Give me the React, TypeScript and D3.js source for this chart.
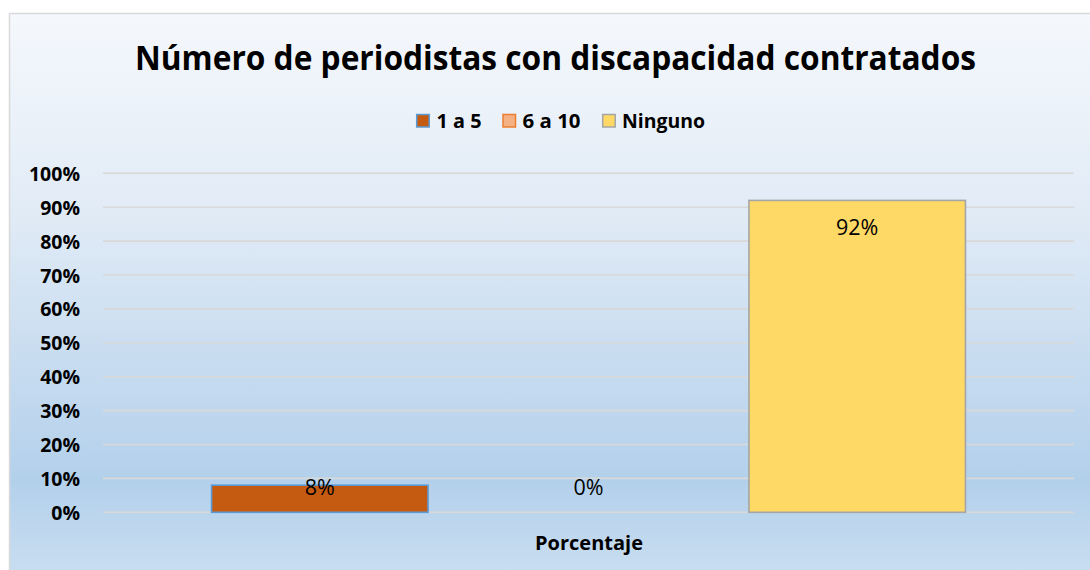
import React from "react";
import * as d3 from "d3";

const title = "Número de periodistas con discapacidad contratados";
const seriesNames = ["1 a 5", "6 a 10", "Ninguno"];
const seriesValues = [0.08, 0, 0.92];
const valueLabels = ["8%", "0%", "92%"];
const fills = ["#C55A11", "#F4B183", "#FFD966"];
const strokes = ["#5B9BD5", "#ED7D31", "#A5A5A5"];
const yTicks = [0, 0.1, 0.2, 0.3, 0.4, 0.5, 0.6, 0.7, 0.8, 0.9, 1.0];
const categoryLabel = "Porcentaje";

const W = 1090;
const H = 570;
const plotLeft = 103;
const plotRight = 1074;
const plotTop = 173.3;
const plotBottom = 512.3;

export default function App() {
  const y = d3.scaleLinear().domain([0, 1]).range([plotBottom, plotTop]);
  const x = d3
    .scaleBand<string>()
    .domain(seriesNames)
    .range([plotLeft, plotRight])
    .paddingInner(0.1944)
    .paddingOuter(0.404);
  const fmt = d3.format(".0%");
  const font = "'Open Sans', 'DejaVu Sans', sans-serif";

  const legendItems = [
    { sq: 416.7, tx: 436.5, w: 45 },
    { sq: 503, tx: 522.5, w: 58 },
    { sq: 602.7, tx: 622, w: 83 },
  ];

  return (
    <div style={{ position: "absolute", left: 0, top: 0 }}>
      <svg width={W} height={H} style={{ display: "block" }}>
        <defs>
          <linearGradient id="bg" x1="0" y1="0" x2="0" y2="1">
            <stop offset="0" stopColor="#F5F8FC" />
            <stop offset="0.35" stopColor="#E1EBF6" />
            <stop offset="0.82" stopColor="#B3D0EB" />
            <stop offset="1" stopColor="#CBDFF1" />
          </linearGradient>
        </defs>
        <rect x={0} y={0} width={W} height={H} fill="#FFFFFF" />
        <rect x={9.5} y={13.5} width={W + 10} height={H} fill="url(#bg)" stroke="#D9D9D9" strokeWidth={1.5} />
        <text
          x={555.5}
          y={69.5}
          textAnchor="middle"
          fontFamily={font}
          fontWeight="bold"
          fontSize={34}
          textLength={841}
          lengthAdjust="spacingAndGlyphs"
          fill="#000"
        >
          {title}
        </text>
        {/* legend */}
        {seriesNames.map((s, i) => (
          <g key={s}>
            <rect x={legendItems[i].sq} y={114.5} width={12.5} height={12.5} fill={fills[i]} stroke={strokes[i]} strokeWidth={1.5} />
            <text
              x={legendItems[i].tx}
              y={128}
              fontFamily={font}
              fontWeight="bold"
              fontSize={19.5}
              textLength={legendItems[i].w}
              lengthAdjust="spacingAndGlyphs"
              fill="#000"
            >
              {s}
            </text>
          </g>
        ))}
        {/* gridlines */}
        {yTicks.map((t) => (
          <g key={t}>
            <line x1={plotLeft} x2={plotRight} y1={y(t)} y2={y(t)} stroke="#D9D9D9" strokeWidth={1.6} />
            <text x={80} y={y(t) + 7.5} textAnchor="end" fontFamily={font} fontWeight="bold" fontSize={19.5} fill="#000">
              {fmt(t)}
            </text>
          </g>
        ))}
        {/* bars */}
        {seriesNames.map((s, i) =>
          seriesValues[i] > 0 ? (
            <rect
              key={s}
              x={x(s)!}
              y={y(seriesValues[i])}
              width={x.bandwidth()}
              height={plotBottom - y(seriesValues[i])}
              fill={fills[i]}
              stroke={strokes[i]}
              strokeWidth={1.6}
            />
          ) : null
        )}
        {/* value labels */}
        {seriesNames.map((s, i) => {
          const cx = x(s)! + x.bandwidth() / 2;
          const v = seriesValues[i];
          const ty = v > 0.5 ? y(v) + 34.6 : v > 0 ? y(v) + 10 : y(v) - 17;
          return (
            <text key={s} x={cx} y={ty} textAnchor="middle" fontFamily={font} fontSize={21.5} fill="#000">
              {valueLabels[i]}
            </text>
          );
        })}
        <text x={589} y={550} textAnchor="middle" fontFamily={font} fontWeight="bold" fontSize={20} fill="#000">
          {categoryLabel}
        </text>
      </svg>
    </div>
  );
}
